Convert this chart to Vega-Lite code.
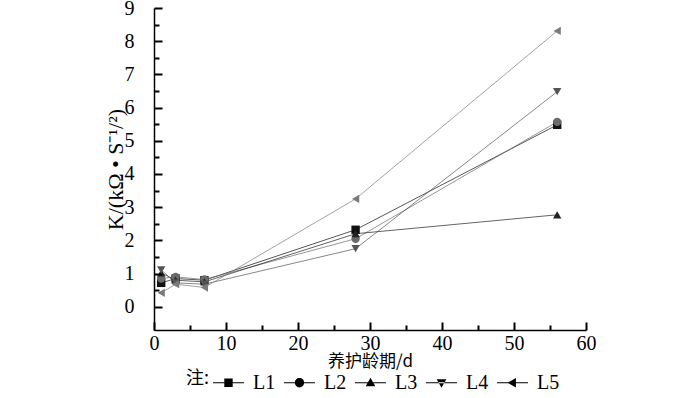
{
  "$schema": "https://vega.github.io/schema/vega-lite/v6.json",
  "autosize": {"type": "none"},
  "width": 432,
  "height": 322,
  "padding": {"left": 154, "top": 8, "right": 114, "bottom": 68},
  "background": "white",
  "config": {
    "view": {"stroke": null},
    "font": "Liberation Serif",
    "axis": {"domainColor": "#000", "domainWidth": 1.5, "ticks": true, "tickColor": "#000", "tickWidth": 2, "tickOpacity": 1, "grid": false, "labelColor": "#000", "titleColor": "#000", "labelFont": "Liberation Serif", "labelFontSize": 20, "titleFontWeight": "normal"}
  },
  "data": {"values": [
    {"day": 1, "K": 0.72, "series": "L1"},
    {"day": 3, "K": 0.85, "series": "L1"},
    {"day": 7, "K": 0.8, "series": "L1"},
    {"day": 28, "K": 2.32, "series": "L1"},
    {"day": 56, "K": 5.48, "series": "L1"},
    {"day": 1, "K": 0.85, "series": "L2"},
    {"day": 3, "K": 0.9, "series": "L2"},
    {"day": 7, "K": 0.82, "series": "L2"},
    {"day": 28, "K": 2.05, "series": "L2"},
    {"day": 56, "K": 5.57, "series": "L2"},
    {"day": 1, "K": 1.02, "series": "L3"},
    {"day": 3, "K": 0.8, "series": "L3"},
    {"day": 7, "K": 0.75, "series": "L3"},
    {"day": 28, "K": 2.2, "series": "L3"},
    {"day": 56, "K": 2.77, "series": "L3"},
    {"day": 1, "K": 1.11, "series": "L4"},
    {"day": 3, "K": 0.72, "series": "L4"},
    {"day": 7, "K": 0.68, "series": "L4"},
    {"day": 28, "K": 1.75, "series": "L4"},
    {"day": 56, "K": 6.48, "series": "L4"},
    {"day": 1, "K": 0.42, "series": "L5"},
    {"day": 3, "K": 0.68, "series": "L5"},
    {"day": 7, "K": 0.58, "series": "L5"},
    {"day": 28, "K": 3.25, "series": "L5"},
    {"day": 56, "K": 8.31, "series": "L5"}
  ]},
  "encoding": {
    "x": {"field": "day", "type": "quantitative", "scale": {"domain": [0, 60], "nice": false, "zero": false}},
    "y": {"field": "K", "type": "quantitative", "scale": {"domain": [-0.7, 9], "nice": false, "zero": false}},
    "color": {"field": "series", "type": "nominal",
      "scale": {"domain": ["L1","L2","L3","L4","L5"], "range": ["#111111","#6a6a6a","#222222","#555555","#7a7a7a"]},
      "legend": null}
  },
  "layer": [
    {"mark": {"type": "line", "strokeWidth": 1, "opacity": 0.7},
      "encoding": {"detail": {"field": "series"},
        "x": {"field": "day", "type": "quantitative",
          "axis": {"values": [0,10,20,30,40,50,60], "format": "d", "offset": -8, "ticks": true, "tickSize": 8, "tickWidth": 2, "tickColor": "#000", "domain": false, "zindex": 2,
            "labelPadding": 3, "labelFlush": false, "title": "养护龄期/d", "titleFont": "Noto Sans CJK SC", "titleFontSize": 17, "titlePadding": 0}},
        "y": {"field": "K", "type": "quantitative",
          "axis": {"values": [0,1,2,3,4,5,6,7,8,9], "format": "d", "offset": -8, "ticks": true, "tickSize": 8, "tickWidth": 2, "tickColor": "#000", "domain": false, "zindex": 2,
            "labelPadding": 20, "labelFlush": false, "title": "K/(kΩ • S⁻¹/²)", "titleFont": "Liberation Serif", "titleFontSize": 22, "titlePadding": -3}}}},
    {"mark": {"type": "point", "filled": true, "size": 70, "opacity": 1},
      "encoding": {
        "x": {"field": "day", "type": "quantitative", "axis": {"orient": "bottom", "values": [5,15,25,35,45,55], "offset": -5, "ticks": true, "tickSize": 5, "tickWidth": 2, "tickColor": "#000", "labels": false, "domain": false, "title": null, "zindex": 2}},
        "y": {"field": "K", "type": "quantitative", "axis": {"orient": "left", "values": [0.5,1.5,2.5,3.5,4.5,5.5,6.5,7.5,8.5], "offset": -5, "ticks": true, "tickSize": 5, "tickWidth": 2, "tickColor": "#000", "labels": false, "domain": false, "title": null, "zindex": 2}},
        "shape": {"field": "series", "type": "nominal",
        "scale": {"domain": ["L1","L2","L3","L4","L5"], "range": ["square","circle","triangle-up","triangle-down","triangle-left"]},
        "legend": null}}},
    {"mark": {"type": "point", "filled": true, "size": 961, "opacity": 0},
      "encoding": {
        "x": {"field": "day", "type": "quantitative", "axis": {"orient": "bottom", "ticks": false, "labels": false, "domain": true, "title": null}},
        "y": {"field": "K", "type": "quantitative", "axis": {"orient": "left", "ticks": false, "labels": false, "domain": true, "title": null}},
        "shape": {"field": "series", "type": "nominal",
        "scale": {"domain": ["L1","L2","L3","L4","L5"], "range": [
          "M-1,-0.04L1,-0.04L1,0.04L-1,0.04ZM-0.27,-0.27L0.27,-0.27L0.27,0.27L-0.27,0.27Z",
          "M-1,-0.04L1,-0.04L1,0.04L-1,0.04ZM0.3,0A0.3,0.3 0 1,1 -0.3,0A0.3,0.3 0 1,1 0.3,0Z",
          "M-1,-0.04L1,-0.04L1,0.04L-1,0.04ZM0,-0.32L0.31,0.22L-0.31,0.22Z",
          "M-1,-0.04L1,-0.04L1,0.04L-1,0.04ZM0,0.32L0.31,-0.22L-0.31,-0.22Z",
          "M-1,-0.04L1,-0.04L1,0.04L-1,0.04ZM-0.32,0L0.22,-0.31L0.22,0.31Z"]},
        "legend": {"orient": "none", "legendX": 32, "legendY": 358, "direction": "horizontal", "title": "注:", "titleOrient": "left",
          "titleAnchor": "middle", "titleBaseline": "middle",
          "titleFont": "Noto Sans CJK SC", "titleFontSize": 18, "titleFontWeight": "normal", "titleColor": "#000", "titlePadding": 2,
          "labelFont": "Liberation Serif", "labelFontSize": 20, "labelColor": "#000", "symbolSize": 961,
          "symbolOpacity": 1, "columnPadding": 5, "labelOffset": 8,
          "encode": {"symbols": {"update": {"fill": {"scale": "color", "field": "value"}, "opacity": {"value": 1}, "size": {"value": 961}}}}}}}}
  ],
  "resolve": {"scale": {"shape": "independent"}, "axis": {"x": "independent", "y": "independent"}}
}
